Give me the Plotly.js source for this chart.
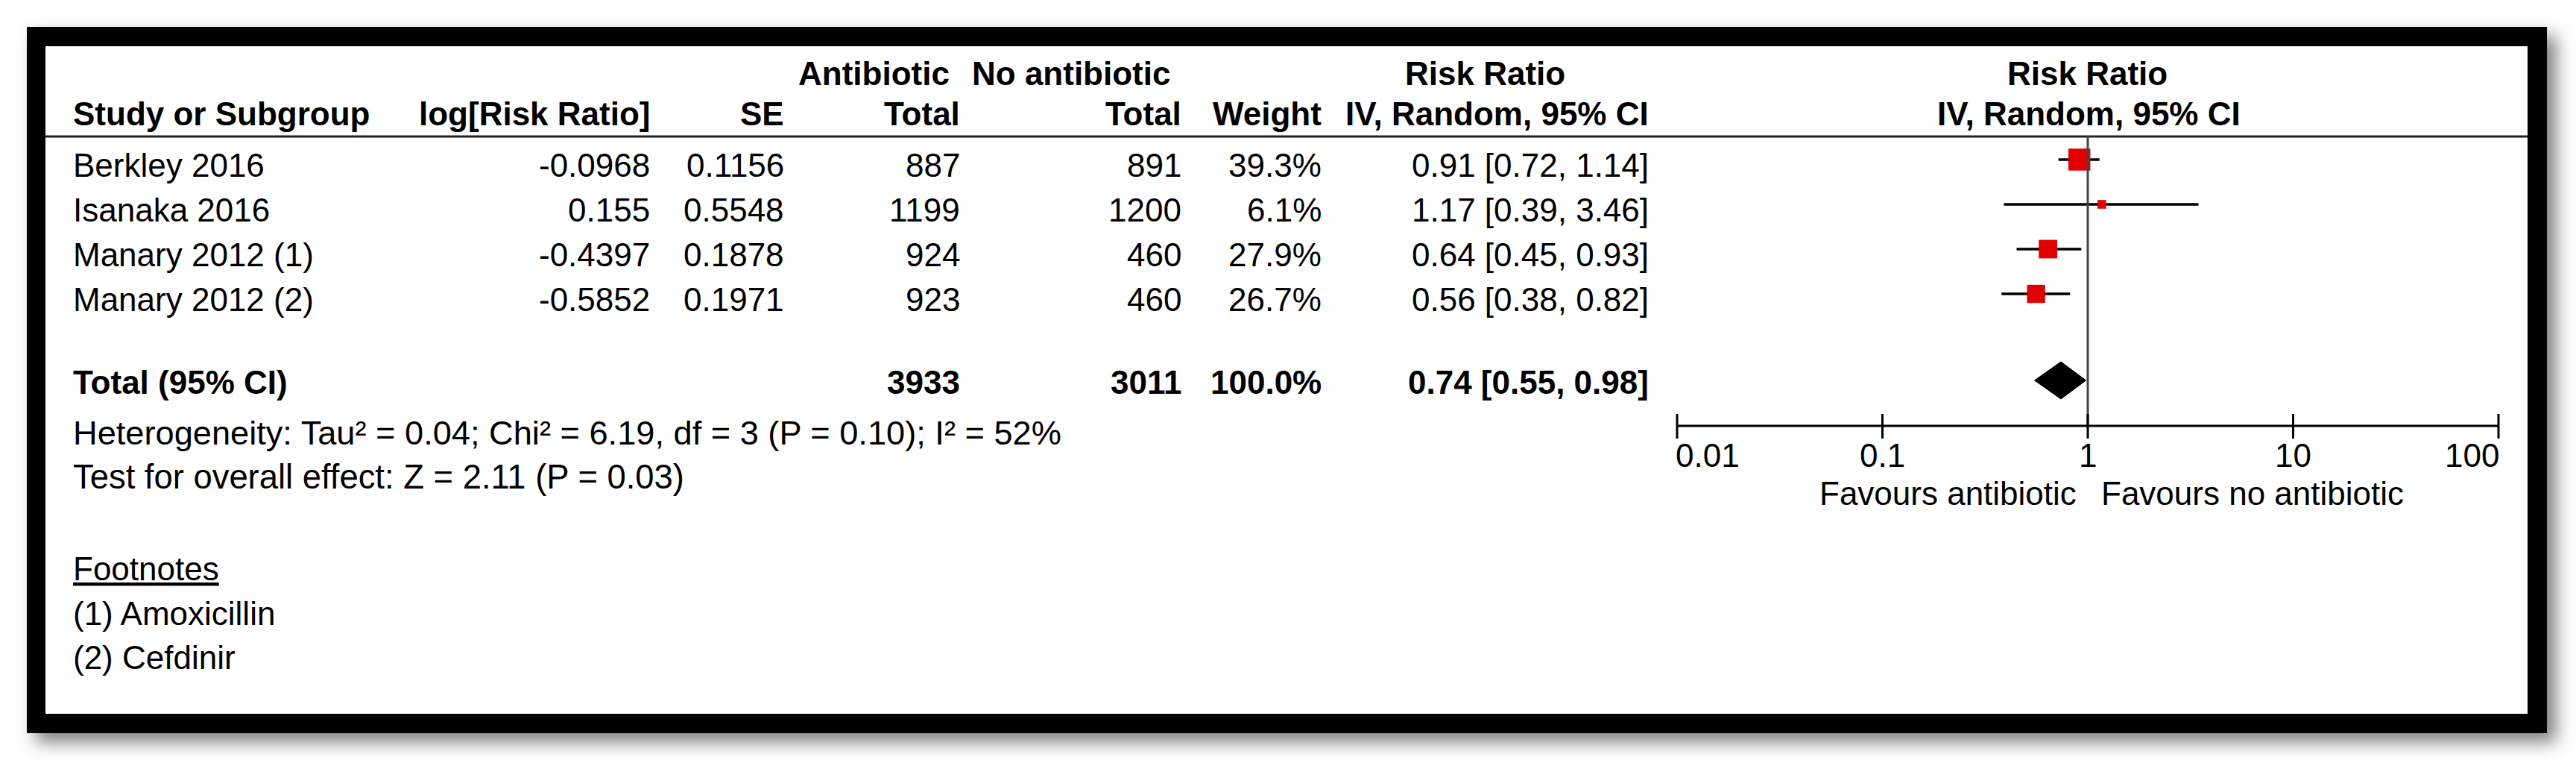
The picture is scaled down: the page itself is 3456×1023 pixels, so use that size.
<!DOCTYPE html>
<html><head><meta charset="utf-8">
<script src="https://cdn.plot.ly/plotly-3.0.1.min.js"></script>
<style>
html,body{margin:0;padding:0;background:#fff;overflow:hidden;}
#wrap{position:relative;width:3456px;height:1023px;}
#shadow{position:absolute;left:36px;top:36px;width:3381px;height:947px;background:#000;box-shadow:12px 12px 22px rgba(0,0,0,0.5);}
#chart{position:absolute;left:0;top:0;width:3456px;height:1023px;}
</style></head><body>
<div id="wrap"><div id="shadow"></div><div id="chart"></div></div>
<script>
// ---------------- data ----------------
const studies = ['Berkley 2016', 'Isanaka 2016', 'Manary 2012 (1)', 'Manary 2012 (2)'];
const logRR = [-0.0968, 0.155, -0.4397, -0.5852];
const se = [0.1156, 0.5548, 0.1878, 0.1971];
const totalAntibiotic = [887, 1199, 924, 923];
const totalNoAntibiotic = [891, 1200, 460, 460];
const weights = [39.3, 6.1, 27.9, 26.7];
const rr = [0.91, 1.17, 0.64, 0.56];
const ciLow = [0.72, 0.39, 0.45, 0.38];
const ciHigh = [1.14, 3.46, 0.93, 0.82];
const pooledRR = 0.74;
const pooledLow = 0.55;
const pooledHigh = 0.98;
const pooledWeight = 100.0;
const tickVals = [0.01, 0.1, 1, 10, 100];
const tickLabels = ['0.01', '0.1', '1', '10', '100'];
const heterogeneityText = 'Heterogeneity: Tau² = 0.04; Chi² = 6.19, df = 3 (P = 0.10); I² = 52%';
const overallText = 'Test for overall effect: Z = 2.11 (P = 0.03)';
const footnotes = ['(1) Amoxicillin', '(2) Cefdinir'];

// ---------------- layout geometry (pixels) ----------------
const W = 3456, H = 1023;
const FONT = 'Liberation Sans, Arial, sans-serif';
const FS = 44;
const rowY = [221, 281, 341, 401];
const markerOffset = -7;
const totalY = 512;
const head1Y = 98, head2Y = 152;
const axisY = 571;
const col = {study: 98, logrr: 872, se: 1052, nA: 1288, nN: 1585, w: 1773, ci: 2212};
const fx0 = 2250, fpx = 275.5; // pixel of 0.01, pixels per decade
const pad = 0.05;
const domL = (fx0 - pad * fpx) / W, domR = (fx0 + (4 + pad) * fpx) / W;
const px = v => v / W;          // pixel -> paper x
const py = v => 1 - v / H;      // pixel -> paper y

const ann = [];
function T(x, y, text, anchor, opts) {
  opts = opts || {};
  ann.push(Object.assign({
    xref: opts.xref || 'x2', yref: 'y', x: x, y: y, text: text,
    xanchor: anchor, yanchor: 'middle', showarrow: false,
    borderpad: 0, borderwidth: 0,
    font: Object.assign({family: FONT, size: FS, color: '#000'}, opts.font || {})
  }, opts.extra || {}));
}
const B = s => '<b>' + s + '</b>';
const f2 = v => v.toFixed(2);
const ciText = (e, l, h) => f2(e) + ' [' + f2(l) + ', ' + f2(h) + ']';

// headers
T(1071, head1Y, B('Antibiotic'), 'left');
T(1304, head1Y, B('No antibiotic'), 'left');
T(1885, head1Y, B('Risk Ratio'), 'left');
T(0, head1Y, B('Risk Ratio'), 'center', {xref: 'x'});
T(col.study, head2Y, B('Study or Subgroup'), 'left');
T(col.logrr, head2Y, B('log[Risk Ratio]'), 'right');
T(col.se, head2Y, B('SE'), 'right');
T(col.nA, head2Y, B('Total'), 'right');
T(col.nN, head2Y, B('Total'), 'right');
T(col.w, head2Y, B('Weight'), 'right');
T(col.ci, head2Y, B('IV, Random, 95% CI'), 'right');
T(0, head2Y, B('IV, Random, 95% CI'), 'center', {xref: 'x', extra: {xshift: 2}});

// study rows
studies.forEach((s, i) => {
  const y = rowY[i];
  T(col.study, y, s, 'left');
  T(col.logrr, y, String(logRR[i]), 'right');
  T(col.se, y, String(se[i]), 'right');
  T(col.nA, y, String(totalAntibiotic[i]), 'right');
  T(col.nN, y, String(totalNoAntibiotic[i]), 'right');
  T(col.w, y, weights[i].toFixed(1) + '%', 'right');
  T(col.ci, y, ciText(rr[i], ciLow[i], ciHigh[i]), 'right');
});

// total row
const sumA = totalAntibiotic.reduce((a, b) => a + b, 0);
const sumN = totalNoAntibiotic.reduce((a, b) => a + b, 0);
T(col.study, totalY, B('Total (95% CI)'), 'left');
T(col.nA, totalY, B(String(sumA)), 'right');
T(col.nN, totalY, B(String(sumN)), 'right');
T(col.w, totalY, B(pooledWeight.toFixed(1) + '%'), 'right');
T(col.ci, totalY, B(ciText(pooledRR, pooledLow, pooledHigh)), 'right');

T(col.study, 580, heterogeneityText, 'left', {font: {size: 45.2}});
T(col.study, 639, overallText, 'left', {font: {size: 45.4}});
T(col.study, 762, 'Footnotes', 'left', {font: {lineposition: 'under'}});
T(col.study, 822, footnotes[0], 'left');
T(col.study, 881, footnotes[1], 'left');

// axis tick labels
tickVals.forEach((v, i) => {
  let anchor = 'center', xs = 0;
  if (i === 0) { anchor = 'left'; xs = -2; }
  if (i === tickVals.length - 1) { anchor = 'right'; xs = 1; }
  T(Math.log10(v), 610, tickLabels[i], anchor, {xref: 'x', extra: {xshift: xs}});
});
T(0, 661, 'Favours antibiotic', 'right', {xref: 'x', extra: {xshift: -15}});
T(0, 661, 'Favours no antibiotic', 'left', {xref: 'x', extra: {xshift: 18}});

// ---------------- shapes ----------------
const shapes = [
  {type: 'rect', xref: 'paper', yref: 'paper', x0: px(36), x1: px(3417), y0: py(36), y1: py(983), fillcolor: '#000', line: {width: 0}, layer: 'below'},
  {type: 'rect', xref: 'paper', yref: 'paper', x0: px(61), x1: px(3391), y0: py(62), y1: py(957), fillcolor: '#fff', line: {width: 0}, layer: 'below'},
  {type: 'line', xref: 'paper', yref: 'paper', x0: px(61), x1: px(3391), y0: py(183), y1: py(183), line: {color: '#222', width: 3}, layer: 'below'},
  {type: 'line', xref: 'x', yref: 'y', x0: tickVals[0], x1: tickVals[tickVals.length - 1], y0: axisY, y1: axisY, line: {color: '#000', width: 3}},
  {type: 'line', xref: 'x', yref: 'y', x0: 1, x1: 1, y0: 183, y1: axisY, line: {color: '#444', width: 3}}
];
tickVals.forEach(v => shapes.push({type: 'line', xref: 'x', yref: 'y', x0: v, x1: v, y0: axisY - 16, y1: axisY + 17, line: {color: '#000', width: 3}}));

// ---------------- traces ----------------
const markerY = rowY.map(y => y + markerOffset);
const traces = [
  {
    type: 'scatter', mode: 'markers', xaxis: 'x', yaxis: 'y',
    x: rr, y: markerY,
    marker: {symbol: 'square', color: 'rgb(224,0,0)', opacity: 1, size: weights.map(w => 4.7 * Math.sqrt(w)), line: {width: 0}},
    error_x: {type: 'data', symmetric: false,
      array: ciHigh.map((h, i) => h - rr[i]), arrayminus: ciLow.map((l, i) => rr[i] - l),
      thickness: 3.5, width: 0, color: '#000'},
    hoverinfo: 'skip'
  },
  {
    type: 'scatter', mode: 'lines', xaxis: 'x', yaxis: 'y',
    x: [pooledLow, pooledRR, pooledHigh, pooledRR, pooledLow],
    y: [totalY - 2, totalY - 27, totalY - 2, totalY + 23, totalY - 2],
    fill: 'toself', fillcolor: '#000', line: {color: '#000', width: 1},
    hoverinfo: 'skip'
  }
];

const layout = {
  width: W, height: H,
  margin: {l: 0, r: 0, t: 0, b: 0, pad: 0},
  paper_bgcolor: 'rgba(0,0,0,0)', plot_bgcolor: 'rgba(0,0,0,0)',
  showlegend: false, hovermode: false,
  xaxis: {type: 'log', range: [-2 - pad, 2 + pad], domain: [domL, domR], visible: false, anchor: 'y', fixedrange: true},
  xaxis2: {range: [0, W], domain: [0, 1], visible: false, anchor: 'y', fixedrange: true},
  yaxis: {range: [H, 0], domain: [0, 1], visible: false, fixedrange: true},
  shapes: shapes,
  annotations: ann
};
Plotly.newPlot('chart', traces, layout, {displayModeBar: false, staticPlot: true});
</script>
</body></html>
